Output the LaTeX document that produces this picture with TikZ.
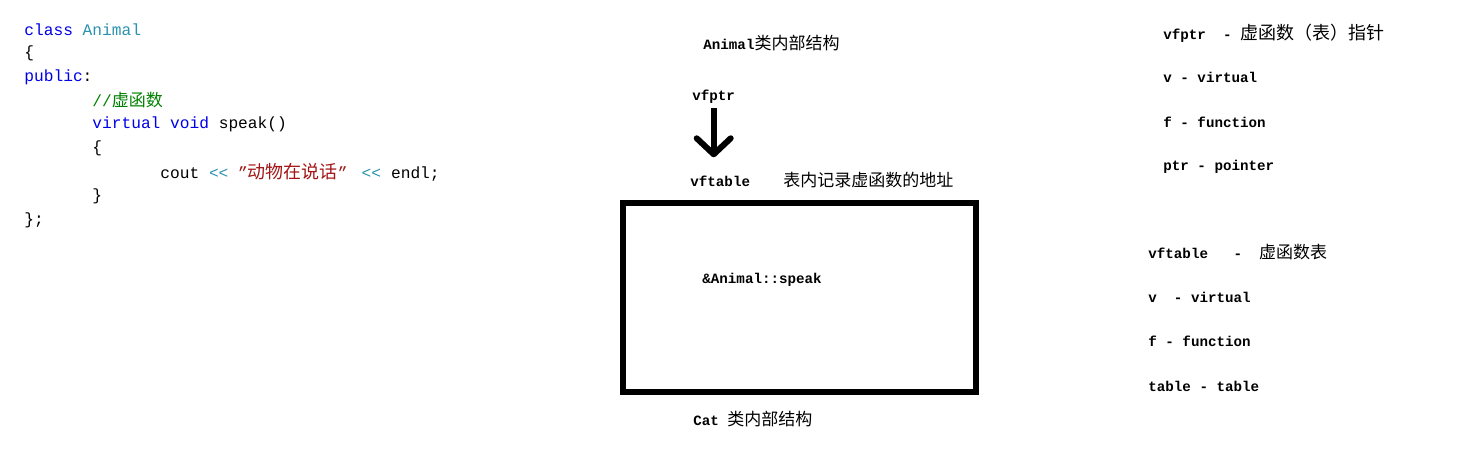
\documentclass[tikz,border=0pt]{standalone}
\usepackage{fontspec}
\setmonofont{Liberation Mono}
\newfontfamily\cjk{Noto Sans CJK SC}
\usetikzlibrary{arrows.meta}
\definecolor{kwblue}{RGB}{0,0,230}
\definecolor{typeteal}{RGB}{43,145,175}
\definecolor{cmtgreen}{RGB}{0,128,0}
\definecolor{strred}{RGB}{163,21,21}
\newcommand{\kw}[1]{\textcolor{kwblue}{#1}}
\newcommand{\cn}[1]{{\cjk\mdseries #1}}
\tikzset{
  codeline/.style = {anchor=west, inner sep=0pt, font=\ttfamily\fontsize{8.1}{10}\selectfont},
  label/.style = {anchor=west, inner sep=0pt, font=\ttfamily\bfseries\fontsize{7.1}{9}\selectfont},
  note/.style = {label},
  tablebox/.style = {draw, line width=3pt, minimum width=176.5pt, minimum height=94.5pt, inner sep=0pt},
  ptrarrow/.style = {line width=3pt, -{Straight Barb[length=8pt, width=17pt, round]}}
}

\begin{document}
\begin{tikzpicture}[x=0.5pt, y=-0.5pt]
    \useasboundingbox (0,0) rectangle (1471,457);
    % code
    \node [codeline] (c1) at (24,30)  {\kw{class} \textcolor{typeteal}{Animal}};
    \node [codeline] (c2) at (24,53)  {\{};
    \node [codeline] (c3) at (24,77)  {\kw{public}:};
    \node [codeline] (c4) at (92,100) {\textcolor{cmtgreen}{//\cn{\fontsize{8.5}{10}\selectfont 虚函数}}};
    \node [codeline] (c5) at (92,124) {\kw{virtual} \kw{void} speak()};
    \node [codeline] (c6) at (92,148) {\{};
    \node [codeline] (c7) at (160,172) {cout \textcolor{typeteal}{<<} \textcolor{strred}{”\cn{\fontsize{9}{10}\selectfont 动物在说话}”}\hspace{7pt}\textcolor{typeteal}{<<}\hspace{5pt}endl;};
    \node [codeline] (c8) at (92,196) {\}};
    \node [codeline] (c9) at (24,220) {\};};
    % Animal
    \node [label] (title) at (703,43) {Animal\cn{\fontsize{8.5}{10}\selectfont 类内部结构}};
    \node [label] (vfptr) at (692,97) {vfptr};
    \node [label] (vftable) at (690,181) {vftable};
    \node [label] (desc) at (783,180) {\cn{\fontsize{8.5}{10}\selectfont 表内记录虚函数的地址}};
    \draw [ptrarrow, shorten <=2pt, shorten >=9pt] (vfptr.south) -- (vfptr.south |- vftable.north);
    \node [tablebox] (vtab) at (799.5,297.5) {};
    \node [label] (entry) at (702,280) {\&Animal::speak};
    \node [label] (cat) at (693,419) {Cat \cn{\fontsize{8.5}{10}\selectfont 类内部结构}};
    % notes
    \node [note] (n1) at (1163,33)  {vfptr\ \ -\ \cn{\fontsize{9}{10}\selectfont 虚函数（表）指针}};
    \node [note] (n2) at (1163,77)  {v - virtual};
    \node [note] (n3) at (1163,122) {f - function};
    \node [note] (n4) at (1163,167) {ptr - pointer};
    \node [note] (n5) at (1148,252) {vftable\ \ \ -\ \ \cn{\fontsize{8.5}{10}\selectfont 虚函数表}};
    \node [note] (n6) at (1148,297) {v\ \ - virtual};
    \node [note] (n7) at (1148,341) {f - function};
    \node [note] (n8) at (1148,386) {table - table};
\end{tikzpicture}
\end{document}
